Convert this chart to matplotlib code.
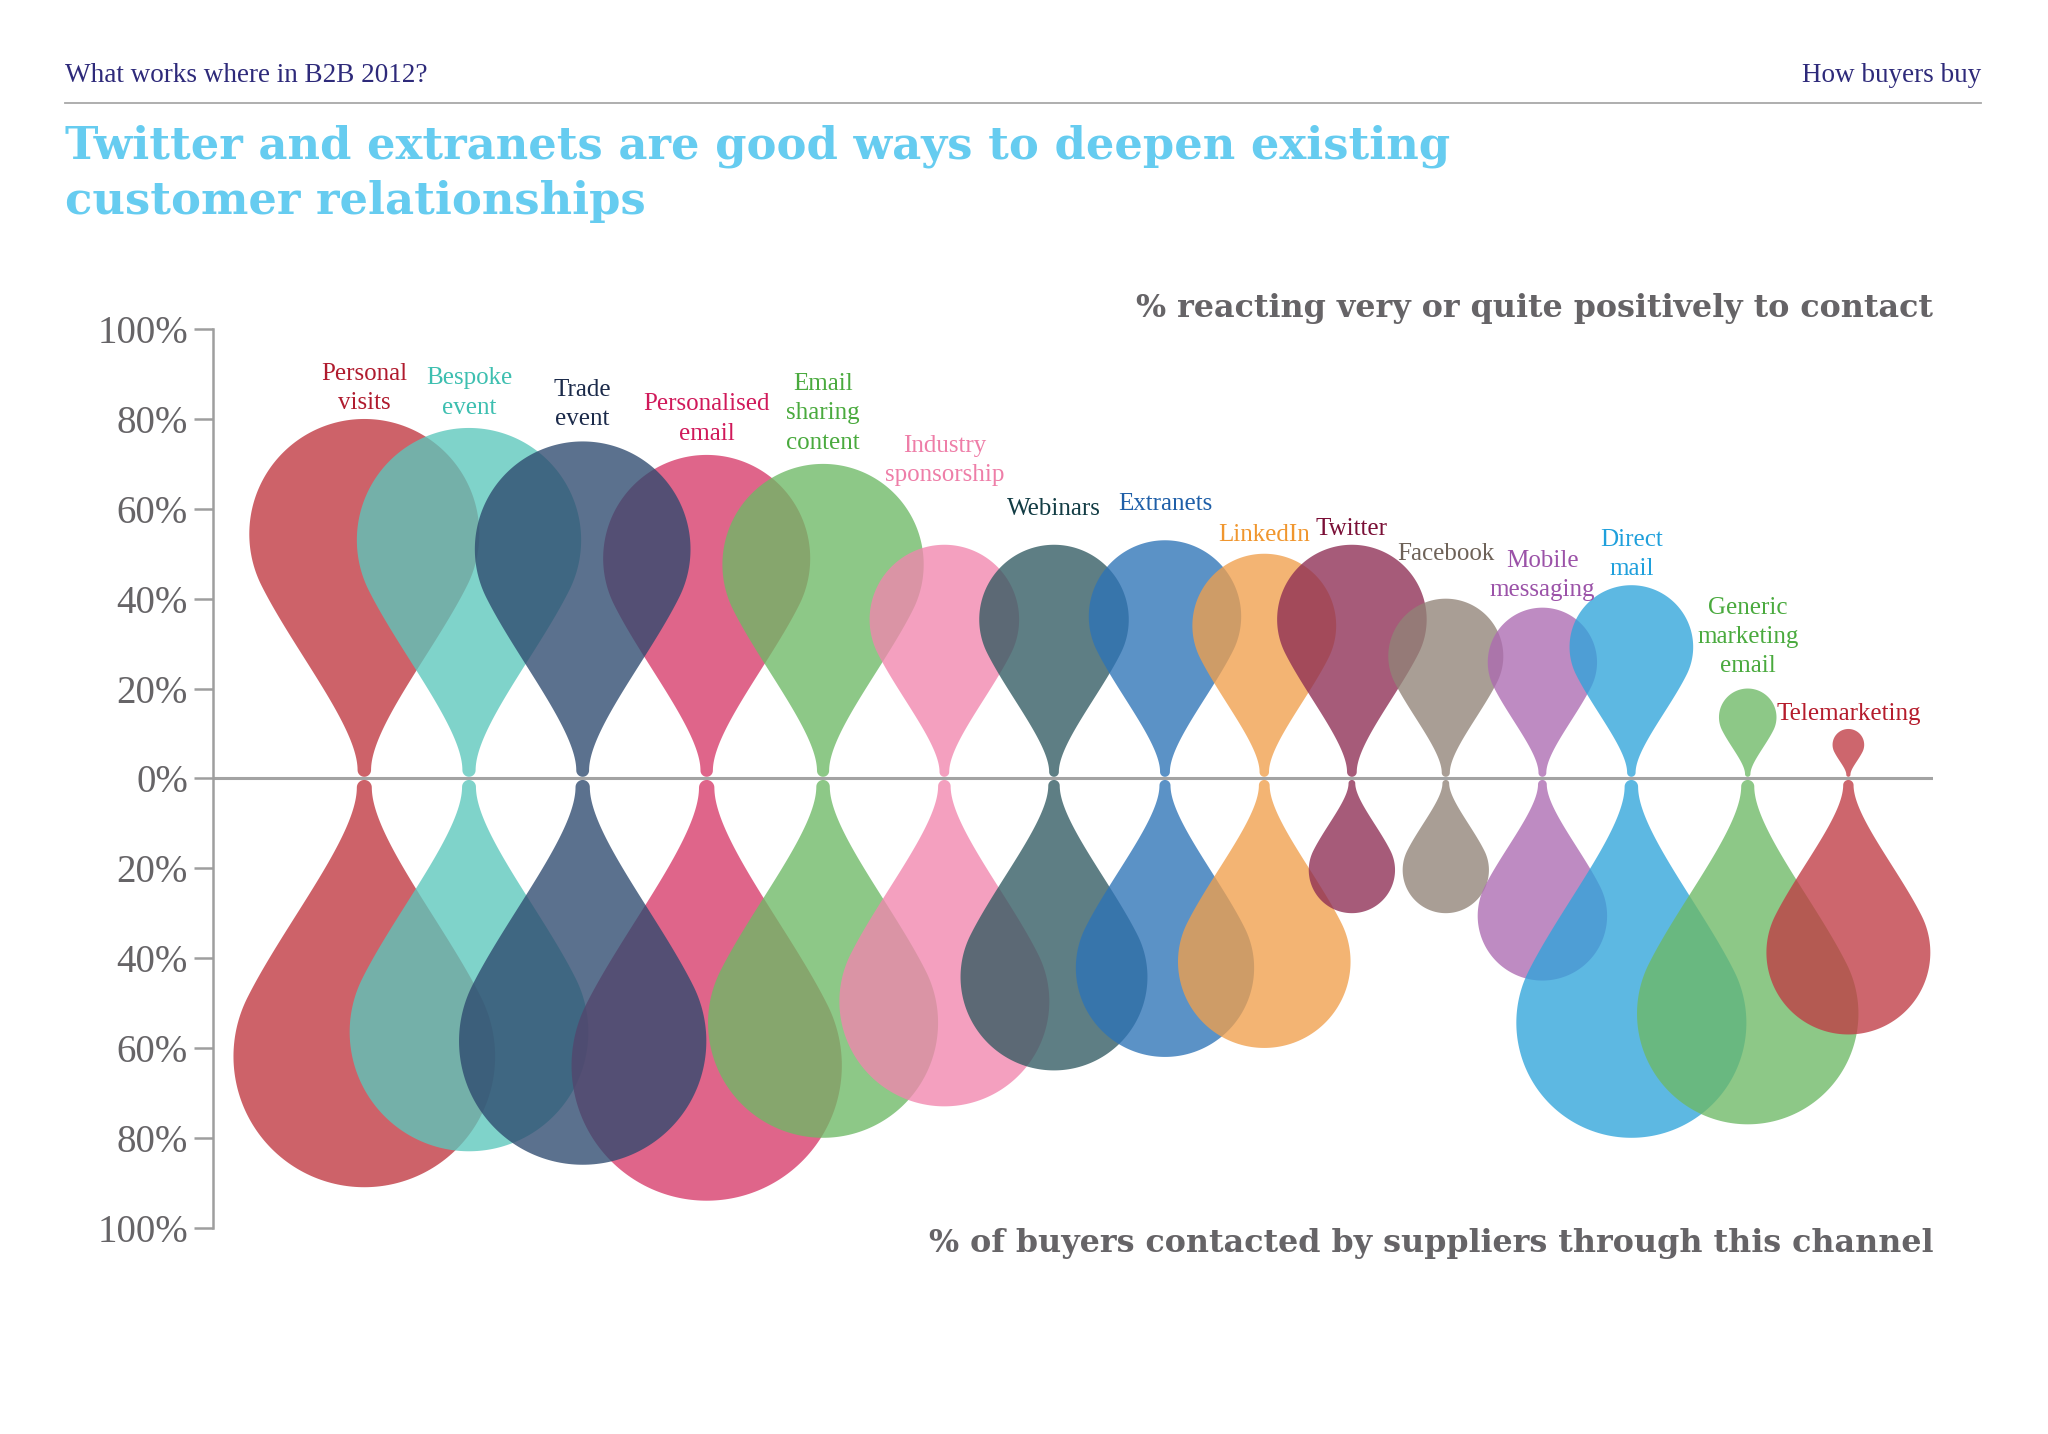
import numpy as np
import matplotlib.pyplot as plt
from matplotlib.patches import Polygon

# data: % reacting positively (upper drops) and % contacted (lower drops)
channels = [
    "Personal\nvisits", "Bespoke\nevent", "Trade\nevent", "Personalised\nemail",
    "Email\nsharing\ncontent", "Industry\nsponsorship", "Webinars", "Extranets",
    "LinkedIn", "Twitter", "Facebook", "Mobile\nmessaging", "Direct\nmail",
    "Generic\nmarketing\nemail", "Telemarketing",
]
positive = [80, 78, 75, 72, 70, 52, 52, 53, 50, 52, 40, 38, 43, 20, 11]
contacted = [91, 83, 86, 94, 80, 73, 65, 62, 60, 30, 30, 45, 80, 77, 57]

# layout (axis units, 1 unit == 1 % vertically)
x_pos = [33.7, 57.0, 82.3, 109.9, 135.8, 162.8, 187.2, 211.9, 234.0, 253.5,
         274.4, 295.9, 315.7, 341.6, 364.0]
label_y = [84.0, 83.1, 80.5, 77.3, 75.3, 68.0, 60.5, 61.6, 54.7, 56.1,
           50.6, 42.4, 47.1, 25.6, 14.8]
draw_order = [0, 1, 3, 2, 4, 5, 6, 7, 8, 9, 10, 11, 12, 13, 14]

fill_colors = ["#BF363F", "#5BC7BC", "#2D496E", "#D73A69", "#6DB965", "#F186AE",
               "#315A61", "#2D73B7", "#F09F4C", "#8D2D53", "#918377", "#AC6AB1",
               "#2FA4DB", "#6DB965", "#C03B44"]
text_colors = ["#B01B2E", "#3DBFB0", "#1B2A4A", "#D0195A", "#4AAA3E", "#EE7EA8",
               "#123C44", "#1F5FA8", "#F0962E", "#7A0F36", "#6E6258", "#9B52A8",
               "#1FA0DC", "#4AAA3E", "#B51C2C"]
ALPHA = 0.78
GREY = "#666467"


def drop_profile(L):
    """Half-width profile (w, s) of a drop of length L, from the tip up to the top."""
    r = 0.32 * L
    c = L - r
    gap = 0.35
    wn = 0.3 + 0.015 * L
    # rounded tip
    a = np.linspace(-np.pi / 2, 0, 12)
    tip = np.column_stack([wn * np.cos(a), gap + wn + wn * np.sin(a)])
    # tail (cubic bezier) from neck to the bulb
    th0 = -np.arcsin(0.447)
    p0 = np.array([r * np.cos(th0), c + r * np.sin(th0)])
    d = np.array([np.sin(th0), -np.cos(th0)])
    p1 = p0 + 0.2 * L * d
    p3 = np.array([wn, gap + wn])
    p2 = p3 + np.array([0, 0.12 * L])
    u = np.linspace(0, 1, 60)[:, None]
    tail = (1 - u) ** 3 * p3 + 3 * (1 - u) ** 2 * u * p2 + 3 * (1 - u) * u ** 2 * p1 + u ** 3 * p0
    # bulb
    th = np.linspace(th0, np.pi / 2, 90)
    bulb = np.column_stack([r * np.cos(th), c + r * np.sin(th)])
    return np.vstack([tip, tail, bulb])


def drop(ax, x, L, sign, color, z):
    half = drop_profile(L)
    right = np.column_stack([x + half[:, 0], sign * half[:, 1]])
    left = np.column_stack([x - half[::-1, 0], sign * half[::-1, 1]])
    poly = Polygon(np.vstack([right, left]), closed=True, facecolor=color,
                   edgecolor="none", alpha=ALPHA, zorder=z, clip_on=False)
    ax.add_patch(poly)


W, H = 1568, 1098  # reference layout frame
fig = plt.figure(figsize=(20.48, 14.34), dpi=100)
fig.patch.set_facecolor("white")

ax = fig.add_axes([163 / W, 1 - 940 / H, (1480 - 163) / W, 688 / H])
ax.set_xlim(0, (1480 - 163) / 3.44)
ax.set_ylim(-100, 100)
ax.patch.set_alpha(0)
for side in ("top", "right", "bottom"):
    ax.spines[side].set_visible(False)
ax.spines["left"].set_color("#9E9E9E")
ax.spines["left"].set_linewidth(1.8)
ticks = list(range(100, -101, -20))
ax.set_yticks(ticks)
ax.set_yticklabels([f"{abs(t)}%" for t in ticks], family="Liberation Serif",
                   fontsize=28, color=GREY)
ax.tick_params(axis="y", direction="out", length=14, width=1.8, color="#9E9E9E", pad=4)
ax.set_xticks([])
ax.axhline(0, color="#A3A3A3", linewidth=2.2, zorder=1)

for k, i in enumerate(draw_order):
    drop(ax, x_pos[i], positive[i], 1, fill_colors[i], 2 + k)
    drop(ax, x_pos[i], contacted[i], -1, fill_colors[i], 2 + k)

for i, name in enumerate(channels):
    ax.text(x_pos[i], label_y[i] - 3.0, name, ha="center", va="bottom",
            family="Liberation Serif", fontsize=18, color=text_colors[i],
            linespacing=1.42, zorder=30)

# header
fig.text(50 / W, 1 - 58 / H, "What works where in B2B 2012?", ha="left", va="center",
         family="Liberation Serif", fontsize=19.5, color="#2E2A7A")
fig.text(1517 / W, 1 - 58 / H, "How buyers buy", ha="right", va="center",
         family="Liberation Serif", fontsize=19.5, color="#2E2A7A")
fig.add_artist(plt.Line2D([50 / W, 1517 / W], [1 - 79 / H, 1 - 79 / H],
                          color="#A8A8A8", linewidth=1.3))
fig.text(50 / W, 1 - 112 / H, "Twitter and extranets are good ways to deepen existing",
         ha="left", va="center", family="DejaVu Serif", fontweight="bold",
         fontsize=32.3, color="#66CCF0")
fig.text(50 / W, 1 - 154 / H, "customer relationships",
         ha="left", va="center", family="DejaVu Serif", fontweight="bold",
         fontsize=32.3, color="#66CCF0")

# axis notes
fig.text(1480 / W, 1 - 236 / H, "% reacting very or quite positively to contact",
         ha="right", va="center", family="DejaVu Serif", fontweight="bold",
         fontsize=22.9, color=GREY)
fig.text(1480 / W, 1 - 952 / H, "% of buyers contacted by suppliers through this channel",
         ha="right", va="center", family="DejaVu Serif", fontweight="bold",
         fontsize=22.9, color=GREY)

fig.savefig("out.png", dpi=100, facecolor="white")
